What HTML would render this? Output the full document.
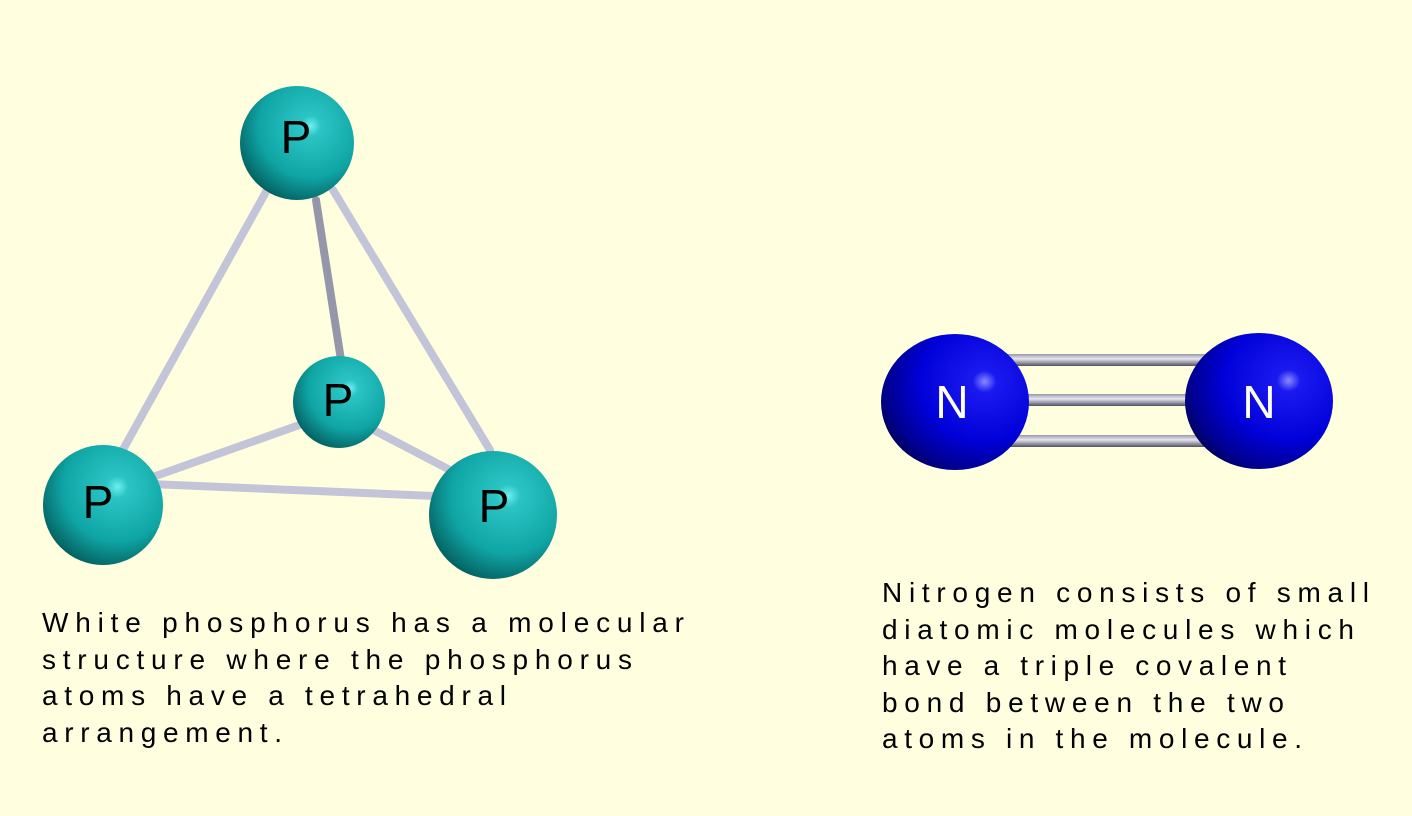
<!DOCTYPE html>
<html><head><style>html,body{margin:0;padding:0;background:#ffffe0;}svg{display:block}</style></head>
<body>
<svg width="1412" height="816" viewBox="0 0 1412 816" xmlns="http://www.w3.org/2000/svg">
<defs>
<radialGradient id="p" cx="0.62" cy="0.35" r="0.75">
<stop offset="0" stop-color="#6fefef"/><stop offset="0.12" stop-color="#2bc4c4"/><stop offset="0.6" stop-color="#10a5a5"/><stop offset="0.9" stop-color="#056666"/><stop offset="1" stop-color="#023e3e"/></radialGradient>
<radialGradient id="n" cx="0.7" cy="0.35" r="0.8">
<stop offset="0" stop-color="#8a8aff"/><stop offset="0.1" stop-color="#1a1af0"/><stop offset="0.55" stop-color="#0000d8"/><stop offset="0.85" stop-color="#00008a"/><stop offset="1" stop-color="#000040"/></radialGradient>
<linearGradient id="bh" x1="0" y1="0" x2="0" y2="1"><stop offset="0" stop-color="#9898a8"/><stop offset="0.4" stop-color="#e6e6f2"/><stop offset="1" stop-color="#505060"/></linearGradient>
</defs>
<rect width="1412" height="816" fill="#ffffe0"/>
<g stroke="#c4c4d8" stroke-width="8" stroke-linecap="round">
<line x1="267" y1="190" x2="120" y2="455"/>
<line x1="333" y1="190" x2="490" y2="450"/>
<line x1="316" y1="200" x2="341" y2="360" stroke="#9696aa"/>
<line x1="150" y1="478" x2="305" y2="423"/>
<line x1="362" y1="424" x2="450" y2="470"/>
<line x1="150" y1="484" x2="435" y2="496"/>
</g>
<circle cx="297" cy="143" r="57" fill="url(#p)"/>
<circle cx="339" cy="402" r="46" fill="url(#p)"/>
<circle cx="103" cy="505" r="60" fill="url(#p)"/>
<circle cx="493" cy="515" r="64" fill="url(#p)"/>
<g font-family="Liberation Sans, sans-serif" font-size="46" fill="#000" text-anchor="middle">
<text x="296" y="153">P</text><text x="338" y="416">P</text><text x="98" y="518">P</text><text x="494" y="522">P</text>
</g>
<rect x="1000" y="354" width="210" height="12" fill="url(#bh)"/>
<rect x="1000" y="394" width="210" height="12" fill="url(#bh)"/>
<rect x="1000" y="435" width="210" height="12" fill="url(#bh)"/>
<ellipse cx="955" cy="402" rx="74" ry="68" fill="url(#n)"/>
<ellipse cx="1259" cy="401" rx="74" ry="68" fill="url(#n)"/>
<g font-family="Liberation Sans, sans-serif" font-size="46" fill="#fff" text-anchor="middle">
<text x="952" y="418">N</text><text x="1259" y="418">N</text>
</g>
<g font-family="Liberation Sans, sans-serif" font-size="28" fill="#000">
<text x="42" y="632" textLength="642" lengthAdjust="spacing">White phosphorus has a molecular</text>
<text x="42" y="669" textLength="590" lengthAdjust="spacing">structure where the phosphorus</text>
<text x="42" y="705" textLength="464" lengthAdjust="spacing">atoms have a tetrahedral</text>
<text x="42" y="742" textLength="240" lengthAdjust="spacing">arrangement.</text>
<text x="882" y="602" textLength="487" lengthAdjust="spacing">Nitrogen consists of small</text>
<text x="882" y="639" textLength="472" lengthAdjust="spacing">diatomic molecules which</text>
<text x="882" y="675" textLength="404" lengthAdjust="spacing">have a triple covalent</text>
<text x="882" y="712" textLength="402" lengthAdjust="spacing">bond between the two</text>
<text x="882" y="748" textLength="420" lengthAdjust="spacing">atoms in the molecule.</text>
</g>
</svg>
</body></html>
